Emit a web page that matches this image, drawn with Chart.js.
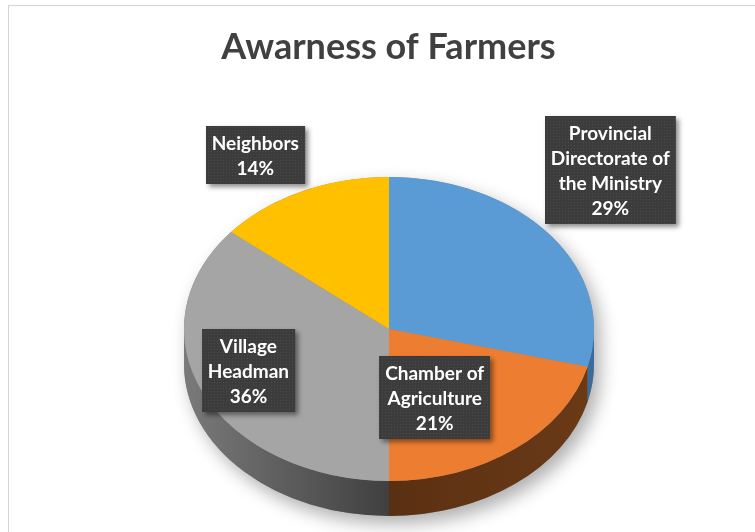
<!DOCTYPE html>
<html>
<head>
<meta charset="utf-8">
<script src="https://cdn.jsdelivr.net/npm/chart.js@4.4.1/dist/chart.umd.min.js"></script>
<style>
  html, body { margin: 0; padding: 0; background: #fff; overflow: hidden; }
  #frame { position: absolute; left: 8px; top: 5px; width: 800px; height: 600px; border: 1px solid #d4d4d4; }
  #wrap { position: absolute; left: 0; top: 0; width: 755px; height: 532px; }
</style>
</head>
<body>
<div id="frame"></div>
<div id="wrap"><canvas id="chart"></canvas></div>
<script>
// --- data ---
const categories = [['Provincial', 'Directorate of', 'the Ministry'], ['Chamber of', 'Agriculture'], ['Village', 'Headman'], ['Neighbors']];
const shares = [29, 21, 36, 14];
const topColors = ['#5B9BD5', '#ED7D31', '#A5A5A5', '#FFC000'];
const sideColors = [['#3a6c9b', '#2f5f8c'], ['#6b3a17', '#5a3012'], ['#7a7a7a', '#404040'], ['#8a6a00', '#7f6000']]; // [edge, middle]

// --- 3d look ---
const pie3d = { cx: 389, cy: 329, rx: 205, ry: 152, depth: 35 };
const labelShift = [[116, -98], [-36, -10], [-20, -1], [-77, -85]]; // px, from slice anchor
const labelFont = 'bold 19px Lato, "Open Sans", sans-serif';

// dotted dark fill for the data labels
function makePattern(ctx) {
    const c = document.createElement('canvas');
    c.width = 3; c.height = 3;
    const p = c.getContext('2d');
    p.fillStyle = '#3c3c3c';
    p.fillRect(0, 0, 3, 3);
    p.fillStyle = '#4a4a4a';
    p.fillRect(1, 1, 1, 1);
    return ctx.createPattern(c, 'repeat');
}

const pie3dPlugin = {
    id: 'pie3d',
    beforeDatasetsDraw(chart) {
        const ctx = chart.ctx;
        const { cx, cy, rx, ry, depth } = pie3d;
        const arcs = chart.getDatasetMeta(0).data;

        // soft shadow under the whole pie
        ctx.save();
        ctx.shadowColor = 'rgba(0,0,0,0.32)';
        ctx.shadowBlur = 18;
        ctx.shadowOffsetX = 6;
        ctx.shadowOffsetY = 8;
        ctx.fillStyle = '#888';
        ctx.beginPath();
        ctx.ellipse(cx, cy, rx, ry, 0, Math.PI, 2 * Math.PI);
        ctx.lineTo(cx + rx, cy + depth);
        ctx.ellipse(cx, cy + depth, rx, ry, 0, 0, Math.PI);
        ctx.closePath();
        ctx.fill();
        ctx.restore();

        // front side walls, only the visible half (angles 0..PI)
        arcs.forEach((arc, i) => {
            const a1 = Math.max(arc.startAngle, 0);
            const a2 = Math.min(arc.endAngle, Math.PI);
            if (a2 <= a1) return;
            const g = ctx.createLinearGradient(cx - rx, 0, cx + rx, 0);
            g.addColorStop(0, sideColors[i][0]);
            g.addColorStop(0.5, sideColors[i][1]);
            g.addColorStop(1, sideColors[i][0]);
            ctx.fillStyle = g;
            ctx.beginPath();
            ctx.ellipse(cx, cy, rx, ry, 0, a1, a2);
            ctx.lineTo(cx + rx * Math.cos(a2), cy + ry * Math.sin(a2) + depth);
            ctx.ellipse(cx, cy + depth, rx, ry, 0, a2, a1, true);
            ctx.closePath();
            ctx.fill();
        });

        // squash the flat pie into the tilted top face
        const a = arcs[0];
        ctx.save();
        ctx.translate(cx, cy);
        ctx.scale(rx / a.outerRadius, ry / a.outerRadius);
        ctx.translate(-a.x, -a.y);
    },
    afterDatasetsDraw(chart) {
        const ctx = chart.ctx;
        ctx.restore();
        const { cx, cy, rx, ry } = pie3d;
        const arcs = chart.getDatasetMeta(0).data;
        const total = shares.reduce((s, v) => s + v, 0);
        const pattern = makePattern(ctx);
        const lineH = 25;

        arcs.forEach((arc, i) => {
            const mid = (arc.startAngle + arc.endAngle) / 2;
            const x = cx + rx * 0.65 * Math.cos(mid) + labelShift[i][0];
            const y = cy + ry * 0.65 * Math.sin(mid) + labelShift[i][1];
            const lines = [...categories[i], Math.round(shares[i] / total * 100) + '%'];

            ctx.font = labelFont;
            const tw = Math.max(...lines.map(t => ctx.measureText(t).width));
            const w = Math.max(tw + 12, 88);
            const h = lines.length * lineH + 8;
            const bx = Math.round(x - w / 2), by = Math.round(y - h / 2);

            ctx.save();
            ctx.shadowColor = 'rgba(0,0,0,0.45)';
            ctx.shadowBlur = 5;
            ctx.shadowOffsetX = 3;
            ctx.shadowOffsetY = 3;
            ctx.fillStyle = pattern;
            ctx.fillRect(bx, by, w, h);
            ctx.restore();

            ctx.fillStyle = '#ffffff';
            ctx.textAlign = 'center';
            ctx.textBaseline = 'middle';
            lines.forEach((t, k) => {
                ctx.fillText(t, x, by + 4 + lineH * k + lineH / 2 + 1);
            });
        });
    }
};

new Chart(document.getElementById('chart'), {
    type: 'pie',
    data: {
        labels: categories,
        datasets: [{
            data: shares,
            backgroundColor: topColors,
            borderWidth: 0,
            clip: false
        }]
    },
    options: {
        responsive: true,
        maintainAspectRatio: false,
        animation: false,
        layout: { padding: { left: 22, right: 0, top: 0, bottom: 20 } },
        plugins: {
            legend: { display: false },
            tooltip: { enabled: false },
            title: {
                display: true,
                text: 'Awarness of Farmers',
                color: '#404040',
                font: { family: 'Lato, "Open Sans", sans-serif', size: 36, weight: 'bold' },
                padding: { top: 26, bottom: 30 }
            }
        }
    },
    plugins: [pie3dPlugin]
});
</script>
</body>
</html>
